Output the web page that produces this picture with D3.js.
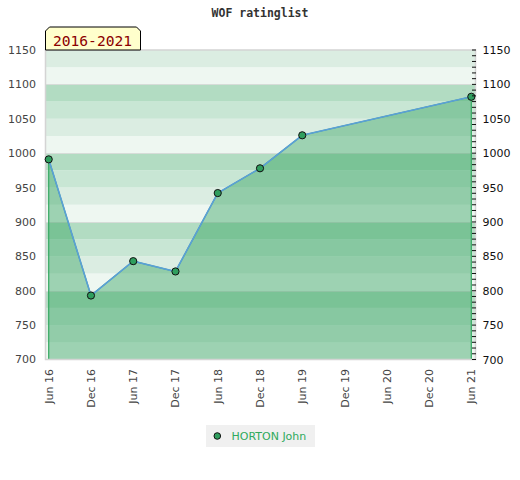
<!DOCTYPE html>
<html><head><meta charset="utf-8">
<script src="https://cdn.jsdelivr.net/npm/d3@7"></script>
<style>body{margin:0;background:#fff}</style>
</head><body>
<svg id="c" width="520" height="480"></svg>
<script>
const categories = ["Jun 16","Dec 16","Jun 17","Dec 17","Jun 18","Dec 18","Jun 19","Dec 19","Jun 20","Dec 20","Jun 21"];
const ratings = [991, 793, 843, 828, 942, 978, 1026, null, null, null, 1082];
const yTicks = [700,750,800,850,900,950,1000,1050,1100,1150];
const bandColors = ["#b2dcc2","#c8e6d4","#dbede2","#eef7f1"];
const seriesName = "HORTON John";
const title = "WOF ratinglist";
const periodLabel = "2016-2021";

const svg = d3.select("#c");
const L = 45.5, R = 475.5, T = 50, B = 359.5;
const x = d3.scalePoint().domain(categories).range([48.7, 471.3]);
const y = d3.scaleLinear().domain([700, 1150]).range([B, T]);

// bands
const bandStarts = d3.range(700, 1150, 25);
svg.append("g").selectAll("rect").data(bandStarts).join("rect")
  .attr("x", L).attr("width", R - L)
  .attr("y", d => y(d + 25)).attr("height", d => y(d) - y(d + 25))
  .attr("fill", d => bandColors[(((1100 - (d + 25)) / 25) % 4 + 4) % 4]);

// gridlines every 100
svg.append("g").selectAll("line").data([800, 900, 1000, 1100]).join("line")
  .attr("x1", L).attr("x2", R).attr("y1", d => Math.round(y(d)) + 0.5).attr("y2", d => Math.round(y(d)) + 0.5)
  .attr("stroke", "#d6dcd8").attr("stroke-width", 1);

const pts = categories.map((c, i) => ({c, v: ratings[i]})).filter(d => d.v != null);

// area
svg.append("path").datum(pts)
  .attr("d", d3.area().x(d => x(d.c)).y0(B).y1(d => y(d.v)))
  .attr("fill", "rgba(46,160,90,0.42)")
  .attr("stroke", "#35a862").attr("stroke-width", 1.2);

// border
svg.append("rect").attr("x", L).attr("y", T).attr("width", R - L).attr("height", B - T)
  .attr("fill", "none").attr("stroke", "#d4d4d4").attr("stroke-width", 1.5);

// line
svg.append("path").datum(pts)
  .attr("d", d3.line().x(d => x(d.c)).y(d => y(d.v)))
  .attr("fill", "none").attr("stroke", "#5b9fd8").attr("stroke-width", 1.6);

// points
svg.append("g").selectAll("circle").data(pts).join("circle")
  .attr("cx", d => x(d.c)).attr("cy", d => y(d.v)).attr("r", 3.6)
  .attr("fill", "#2f9e5e").attr("stroke", "#111").attr("stroke-width", 1);

// left axis labels
svg.append("g").selectAll("text").data(yTicks).join("text")
  .attr("x", 36).attr("y", d => y(d)).attr("dy", "0.36em")
  .attr("text-anchor", "end").attr("font-family", "DejaVu Sans").attr("font-size", 11)
  .attr("fill", "#444").text(d => d);

// right axis
const rAxis = d3.axisRight(y).tickValues(yTicks).tickSize(0).tickPadding(7).tickFormat(d3.format("d"));
const ra = svg.append("g").attr("transform", `translate(${R},0)`).call(rAxis);
ra.select(".domain").remove();
ra.selectAll("text").attr("font-family", "DejaVu Sans").attr("font-size", 11).attr("fill", "#111");
svg.append("g").selectAll("line").data(d3.range(0, 55).map(i => 700 + i * 50 / 6).filter(v => v < 1150.01))
  .join("line").attr("x1", 472).attr("x2", 476).attr("y1", d => y(d)).attr("y2", d => y(d))
  .attr("stroke", "#111").attr("stroke-width", 1);

// x labels
svg.append("g").selectAll("text").data(categories).join("text")
  .attr("transform", d => `translate(${x(d) + 4},369) rotate(-90)`)
  .attr("text-anchor", "end").attr("font-family", "DejaVu Sans").attr("font-size", 11)
  .attr("fill", "#444").text(d => d);

// title
svg.append("text").attr("x", 260).attr("y", 16.5).attr("text-anchor", "middle")
  .attr("font-family", "DejaVu Sans Mono").attr("font-weight", "bold").attr("font-size", 11.5)
  .attr("fill", "#333").text(title);

// period label box
svg.append("path").attr("d", "M45.5,50 L45.5,31 L49.5,27 L136.5,27 L140.5,31 L140.5,50 Z")
  .attr("fill", "#ffffcc").attr("stroke", "#000").attr("stroke-width", 1);
svg.append("text").attr("x", 92.5).attr("y", 45.5).attr("text-anchor", "middle")
  .attr("font-family", "DejaVu Sans Mono").attr("font-size", 14.6)
  .attr("fill", "#8b0000").text(periodLabel);

// legend
svg.append("rect").attr("x", 206).attr("y", 425).attr("width", 109).attr("height", 22).attr("fill", "#f0f0f0");
svg.append("circle").attr("cx", 217.3).attr("cy", 436).attr("r", 3.3)
  .attr("fill", "#2f9e5e").attr("stroke", "#111").attr("stroke-width", 1);
svg.append("text").attr("x", 231.5).attr("y", 436).attr("dy", "0.36em")
  .attr("font-family", "DejaVu Sans").attr("font-size", 11).attr("fill", "#2eaa5c").text(seriesName);
</script>
</body></html>
